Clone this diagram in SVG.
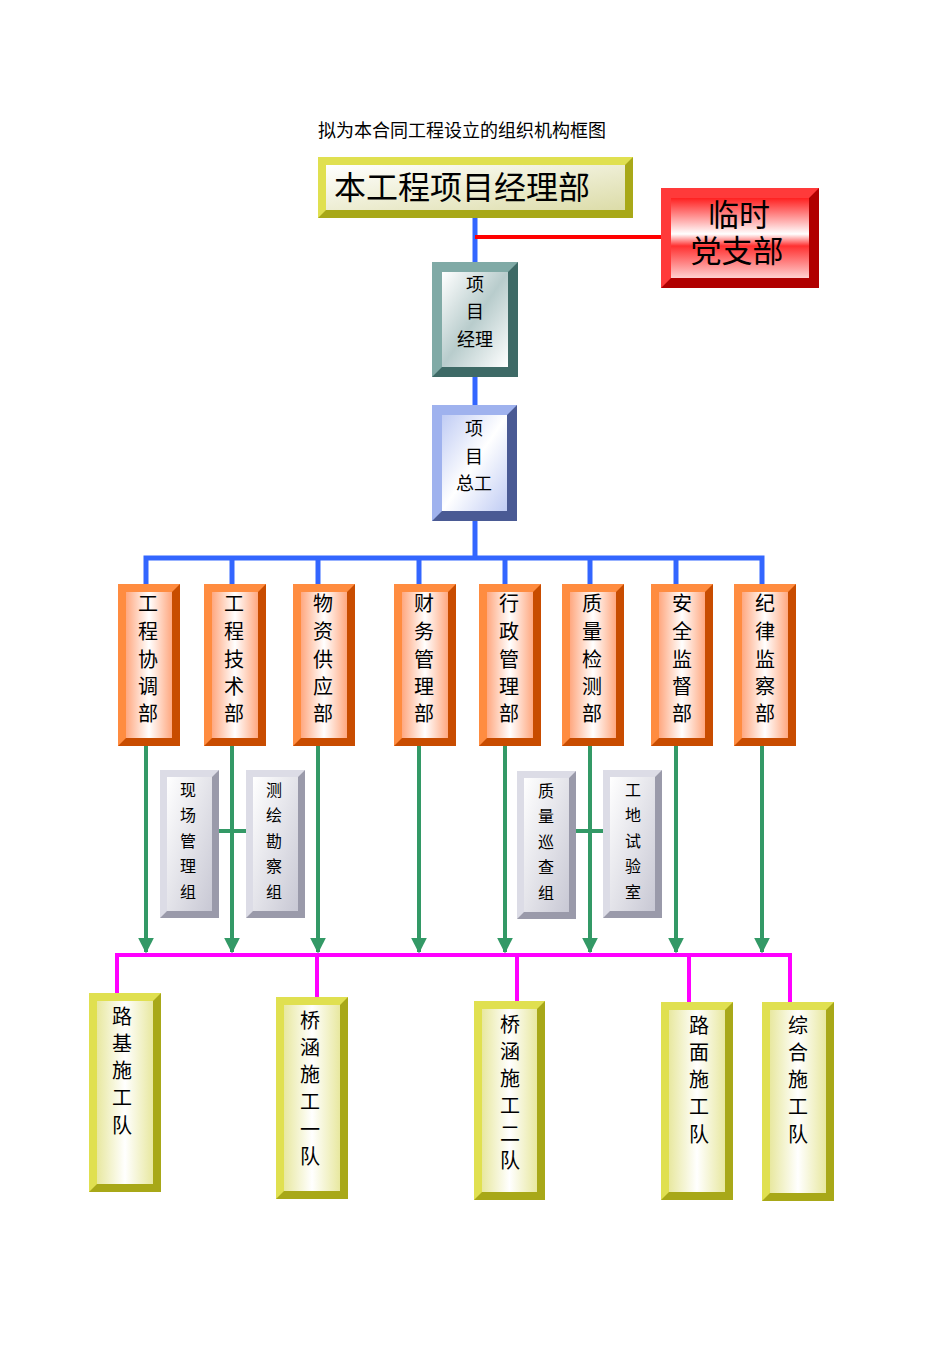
<svg xmlns="http://www.w3.org/2000/svg" width="950" height="1345" viewBox="0 0 950 1345">
<defs>
<linearGradient id="gY" x1="0" y1="0" x2="1" y2="1"><stop offset="0" stop-color="#fff"/><stop offset="1" stop-color="#dcdca8"/></linearGradient>
<linearGradient id="gR" x1="0" y1="0" x2="0" y2="1"><stop offset="0" stop-color="#ff2020"/><stop offset="0.45" stop-color="#fff"/><stop offset="0.6" stop-color="#ff3030"/><stop offset="1" stop-color="#ffd0d0"/></linearGradient>
<linearGradient id="gT" x1="0" y1="0" x2="1" y2="1"><stop offset="0" stop-color="#fff"/><stop offset="0.5" stop-color="#b8cccc"/><stop offset="1" stop-color="#fff"/></linearGradient>
<linearGradient id="gB" x1="0" y1="0" x2="1" y2="1"><stop offset="0" stop-color="#c0ccf4"/><stop offset="0.5" stop-color="#fff"/><stop offset="1" stop-color="#c0ccf4"/></linearGradient>
<linearGradient id="gO" x1="0" y1="0" x2="1" y2="0"><stop offset="0" stop-color="#ffa880"/><stop offset="0.5" stop-color="#fff"/><stop offset="1" stop-color="#ffa880"/></linearGradient>
<linearGradient id="gG" x1="0" y1="0" x2="1" y2="1"><stop offset="0" stop-color="#fff"/><stop offset="1" stop-color="#c8c8d4"/></linearGradient>
<linearGradient id="gYb" x1="0" y1="0" x2="1" y2="0"><stop offset="0" stop-color="#e8e8a0"/><stop offset="0.5" stop-color="#fff"/><stop offset="1" stop-color="#e8e8a0"/></linearGradient>
<marker id="ar" viewBox="0 0 10 10" refX="9" refY="5" markerWidth="4" markerHeight="4" orient="auto"><path d="M0,0L10,5L0,10z" fill="#339966"/></marker>
</defs>
<style>
text{font-family:"Liberation Serif","Noto Sans CJK SC",serif;fill:#000;text-anchor:middle}
.b{stroke:#3366ff;stroke-width:5;fill:none}
.g{stroke:#339966;stroke-width:4;fill:none}
.m{stroke:#ff00ff;stroke-width:4;fill:none}
.yd{fill:#a8a818}.yl{fill:#e0e050}
.rd{fill:#b00000}.rl{fill:#ff3a3a}
.td{fill:#3e6a66}.tl{fill:#80aaa6}
.bd{fill:#4a5a94}.bl{fill:#9fb2ee}
.od{fill:#c84c00}.ol{fill:#ff8c40}
.gd{fill:#9a9aaa}.gl{fill:#dcdce6}
.t20{font-size:20px}.t18{font-size:18px}.t16{font-size:16px}
</style>
<text x="462" y="137" style="font-size:18px">拟为本合同工程设立的组织机构框图</text>

<g id="connectors">
<line class="b" x1="475" y1="218" x2="475" y2="262"/>
<line x1="475" y1="237" x2="661" y2="237" stroke="#ff0000" stroke-width="4"/>
<line class="b" x1="475" y1="377" x2="475" y2="405"/>
<line class="b" x1="475" y1="521" x2="475" y2="558"/>
<polyline class="b" points="146,585 146,558 762,558 762,585"/>
<line class="b" x1="232" y1="558" x2="232" y2="585"/>
<line class="b" x1="318" y1="558" x2="318" y2="585"/>
<line class="b" x1="419" y1="558" x2="419" y2="585"/>
<line class="b" x1="505" y1="558" x2="505" y2="585"/>
<line class="b" x1="590" y1="558" x2="590" y2="585"/>
<line class="b" x1="676" y1="558" x2="676" y2="585"/>
<line class="g" x1="219" y1="831" x2="246" y2="831"/>
<line class="g" x1="576" y1="831" x2="603" y2="831"/>
<line class="g" x1="146" y1="746" x2="146" y2="952" marker-end="url(#ar)"/>
<line class="g" x1="232" y1="746" x2="232" y2="952" marker-end="url(#ar)"/>
<line class="g" x1="318" y1="746" x2="318" y2="952" marker-end="url(#ar)"/>
<line class="g" x1="419" y1="746" x2="419" y2="952" marker-end="url(#ar)"/>
<line class="g" x1="505" y1="746" x2="505" y2="952" marker-end="url(#ar)"/>
<line class="g" x1="590" y1="746" x2="590" y2="952" marker-end="url(#ar)"/>
<line class="g" x1="676" y1="746" x2="676" y2="952" marker-end="url(#ar)"/>
<line class="g" x1="762" y1="746" x2="762" y2="952" marker-end="url(#ar)"/>
<polyline class="m" points="117,995 117,955 790,955 790,1003"/>
<line class="m" x1="317" y1="955" x2="317" y2="998"/>
<line class="m" x1="517" y1="955" x2="517" y2="1002"/>
<line class="m" x1="689" y1="955" x2="689" y2="1003"/>
</g>

<g id="n-top"><rect class="yd" x="318" y="157" width="315" height="61"/><polygon class="yl" points="318,157 633,157 625,165 326,165 326,210 318,218"/><rect x="326" y="165" width="299" height="45" fill="url(#gY)"/><text x="462" y="199" style="font-size:32px">本工程项目经理部</text></g>
<g id="n-party"><rect class="rd" x="661" y="188" width="158" height="100"/><polygon class="rl" points="661,188 819,188 809,198 671,198 671,278 661,288"/><rect x="671" y="198" width="138" height="80" fill="url(#gR)"/><text x="739" y="226" style="font-size:31px">临时</text><text x="737" y="262" style="font-size:31px">党支部</text></g>
<g id="n-pm"><rect class="td" x="432" y="262" width="86" height="115"/><polygon class="tl" points="432,262 518,262 508,272 442,272 442,367 432,377"/><rect x="442" y="272" width="66" height="95" fill="url(#gT)"/><text class="t18" x="475" y="291">项</text><text class="t18" x="475" y="318">目</text><text class="t18" x="475" y="346">经理</text></g>
<g id="n-ce"><rect class="bd" x="432" y="405" width="85" height="116"/><polygon class="bl" points="432,405 517,405 507,415 442,415 442,511 432,521"/><rect x="442" y="415" width="65" height="96" fill="url(#gB)"/><text class="t18" x="474" y="435">项</text><text class="t18" x="474" y="463">目</text><text class="t18" x="474" y="490">总工</text></g>

<g id="n-d1" transform="translate(118,584)"><rect class="od" width="62" height="162"/><polygon class="ol" points="0,0 62,0 54,8 8,8 8,154 0,162"/><rect x="8" y="8" width="46" height="146" fill="url(#gO)"/><text class="t20"><tspan x="30" y="27">工</tspan><tspan x="30" y="55">程</tspan><tspan x="30" y="83">协</tspan><tspan x="30" y="110">调</tspan><tspan x="30" y="137">部</tspan></text></g>
<g id="n-d2" transform="translate(204,584)"><rect class="od" width="62" height="162"/><polygon class="ol" points="0,0 62,0 54,8 8,8 8,154 0,162"/><rect x="8" y="8" width="46" height="146" fill="url(#gO)"/><text class="t20"><tspan x="30" y="27">工</tspan><tspan x="30" y="55">程</tspan><tspan x="30" y="83">技</tspan><tspan x="30" y="110">术</tspan><tspan x="30" y="137">部</tspan></text></g>
<g id="n-d3" transform="translate(293,584)"><rect class="od" width="62" height="162"/><polygon class="ol" points="0,0 62,0 54,8 8,8 8,154 0,162"/><rect x="8" y="8" width="46" height="146" fill="url(#gO)"/><text class="t20"><tspan x="30" y="27">物</tspan><tspan x="30" y="55">资</tspan><tspan x="30" y="83">供</tspan><tspan x="30" y="110">应</tspan><tspan x="30" y="137">部</tspan></text></g>
<g id="n-d4" transform="translate(394,584)"><rect class="od" width="62" height="162"/><polygon class="ol" points="0,0 62,0 54,8 8,8 8,154 0,162"/><rect x="8" y="8" width="46" height="146" fill="url(#gO)"/><text class="t20"><tspan x="30" y="27">财</tspan><tspan x="30" y="55">务</tspan><tspan x="30" y="83">管</tspan><tspan x="30" y="110">理</tspan><tspan x="30" y="137">部</tspan></text></g>
<g id="n-d5" transform="translate(479,584)"><rect class="od" width="62" height="162"/><polygon class="ol" points="0,0 62,0 54,8 8,8 8,154 0,162"/><rect x="8" y="8" width="46" height="146" fill="url(#gO)"/><text class="t20"><tspan x="30" y="27">行</tspan><tspan x="30" y="55">政</tspan><tspan x="30" y="83">管</tspan><tspan x="30" y="110">理</tspan><tspan x="30" y="137">部</tspan></text></g>
<g id="n-d6" transform="translate(562,584)"><rect class="od" width="62" height="162"/><polygon class="ol" points="0,0 62,0 54,8 8,8 8,154 0,162"/><rect x="8" y="8" width="46" height="146" fill="url(#gO)"/><text class="t20"><tspan x="30" y="27">质</tspan><tspan x="30" y="55">量</tspan><tspan x="30" y="83">检</tspan><tspan x="30" y="110">测</tspan><tspan x="30" y="137">部</tspan></text></g>
<g id="n-d7" transform="translate(651,584)"><rect class="od" width="62" height="162"/><polygon class="ol" points="0,0 62,0 54,8 8,8 8,154 0,162"/><rect x="8" y="8" width="46" height="146" fill="url(#gO)"/><text class="t20"><tspan x="31" y="27">安</tspan><tspan x="31" y="55">全</tspan><tspan x="31" y="83">监</tspan><tspan x="31" y="110">督</tspan><tspan x="31" y="137">部</tspan></text></g>
<g id="n-d8" transform="translate(734,584)"><rect class="od" width="62" height="162"/><polygon class="ol" points="0,0 62,0 54,8 8,8 8,154 0,162"/><rect x="8" y="8" width="46" height="146" fill="url(#gO)"/><text class="t20"><tspan x="31" y="27">纪</tspan><tspan x="31" y="55">律</tspan><tspan x="31" y="83">监</tspan><tspan x="31" y="110">察</tspan><tspan x="31" y="137">部</tspan></text></g>

<g id="n-s1" transform="translate(160,770)"><rect class="gd" width="59" height="148"/><polygon class="gl" points="0,0 59,0 52,7 7,7 7,141 0,148"/><rect x="7" y="7" width="45" height="134" fill="url(#gG)"/><text class="t16"><tspan x="28" y="26">现</tspan><tspan x="28" y="51">场</tspan><tspan x="28" y="77">管</tspan><tspan x="28" y="102">理</tspan><tspan x="28" y="128">组</tspan></text></g>
<g id="n-s2" transform="translate(246,770)"><rect class="gd" width="59" height="148"/><polygon class="gl" points="0,0 59,0 52,7 7,7 7,141 0,148"/><rect x="7" y="7" width="45" height="134" fill="url(#gG)"/><text class="t16"><tspan x="28" y="26">测</tspan><tspan x="28" y="51">绘</tspan><tspan x="28" y="77">勘</tspan><tspan x="28" y="102">察</tspan><tspan x="28" y="128">组</tspan></text></g>
<g id="n-s3" transform="translate(517,771)"><rect class="gd" width="59" height="148"/><polygon class="gl" points="0,0 59,0 52,7 7,7 7,141 0,148"/><rect x="7" y="7" width="45" height="134" fill="url(#gG)"/><text class="t16"><tspan x="29" y="26">质</tspan><tspan x="29" y="51">量</tspan><tspan x="29" y="77">巡</tspan><tspan x="29" y="102">查</tspan><tspan x="29" y="128">组</tspan></text></g>
<g id="n-s4" transform="translate(603,770)"><rect class="gd" width="59" height="148"/><polygon class="gl" points="0,0 59,0 52,7 7,7 7,141 0,148"/><rect x="7" y="7" width="45" height="134" fill="url(#gG)"/><text class="t16"><tspan x="30" y="26">工</tspan><tspan x="30" y="51">地</tspan><tspan x="30" y="77">试</tspan><tspan x="30" y="102">验</tspan><tspan x="30" y="128">室</tspan></text></g>

<g id="n-t1" transform="translate(89,993)"><rect class="yd" width="72" height="199"/><polygon class="yl" points="0,0 72,0 64,8 8,8 8,191 0,199"/><rect x="8" y="8" width="56" height="183" fill="url(#gYb)"/><text class="t20"><tspan x="33" y="31">路</tspan><tspan x="33" y="58">基</tspan><tspan x="33" y="85">施</tspan><tspan x="33" y="112">工</tspan><tspan x="33" y="140">队</tspan></text></g>
<g id="n-t2" transform="translate(276,997)"><rect class="yd" width="72" height="202"/><polygon class="yl" points="0,0 72,0 64,8 8,8 8,194 0,202"/><rect x="8" y="8" width="56" height="186" fill="url(#gYb)"/><text class="t20"><tspan x="34" y="31">桥</tspan><tspan x="34" y="58">涵</tspan><tspan x="34" y="85">施</tspan><tspan x="34" y="112">工</tspan><tspan x="34" y="140">一</tspan><tspan x="34" y="167">队</tspan></text></g>
<g id="n-t3" transform="translate(474,1001)"><rect class="yd" width="71" height="199"/><polygon class="yl" points="0,0 71,0 63,8 8,8 8,191 0,199"/><rect x="8" y="8" width="55" height="183" fill="url(#gYb)"/><text class="t20"><tspan x="36" y="31">桥</tspan><tspan x="36" y="58">涵</tspan><tspan x="36" y="85">施</tspan><tspan x="36" y="112">工</tspan><tspan x="36" y="140">二</tspan><tspan x="36" y="167">队</tspan></text></g>
<g id="n-t4" transform="translate(661,1002)"><rect class="yd" width="72" height="198"/><polygon class="yl" points="0,0 72,0 64,8 8,8 8,190 0,198"/><rect x="8" y="8" width="56" height="182" fill="url(#gYb)"/><text class="t20"><tspan x="38" y="31">路</tspan><tspan x="38" y="58">面</tspan><tspan x="38" y="85">施</tspan><tspan x="38" y="112">工</tspan><tspan x="38" y="140">队</tspan></text></g>
<g id="n-t5" transform="translate(762,1002)"><rect class="yd" width="72" height="199"/><polygon class="yl" points="0,0 72,0 64,8 8,8 8,191 0,199"/><rect x="8" y="8" width="56" height="183" fill="url(#gYb)"/><text class="t20"><tspan x="36" y="31">综</tspan><tspan x="36" y="58">合</tspan><tspan x="36" y="85">施</tspan><tspan x="36" y="112">工</tspan><tspan x="36" y="140">队</tspan></text></g>
</svg>
